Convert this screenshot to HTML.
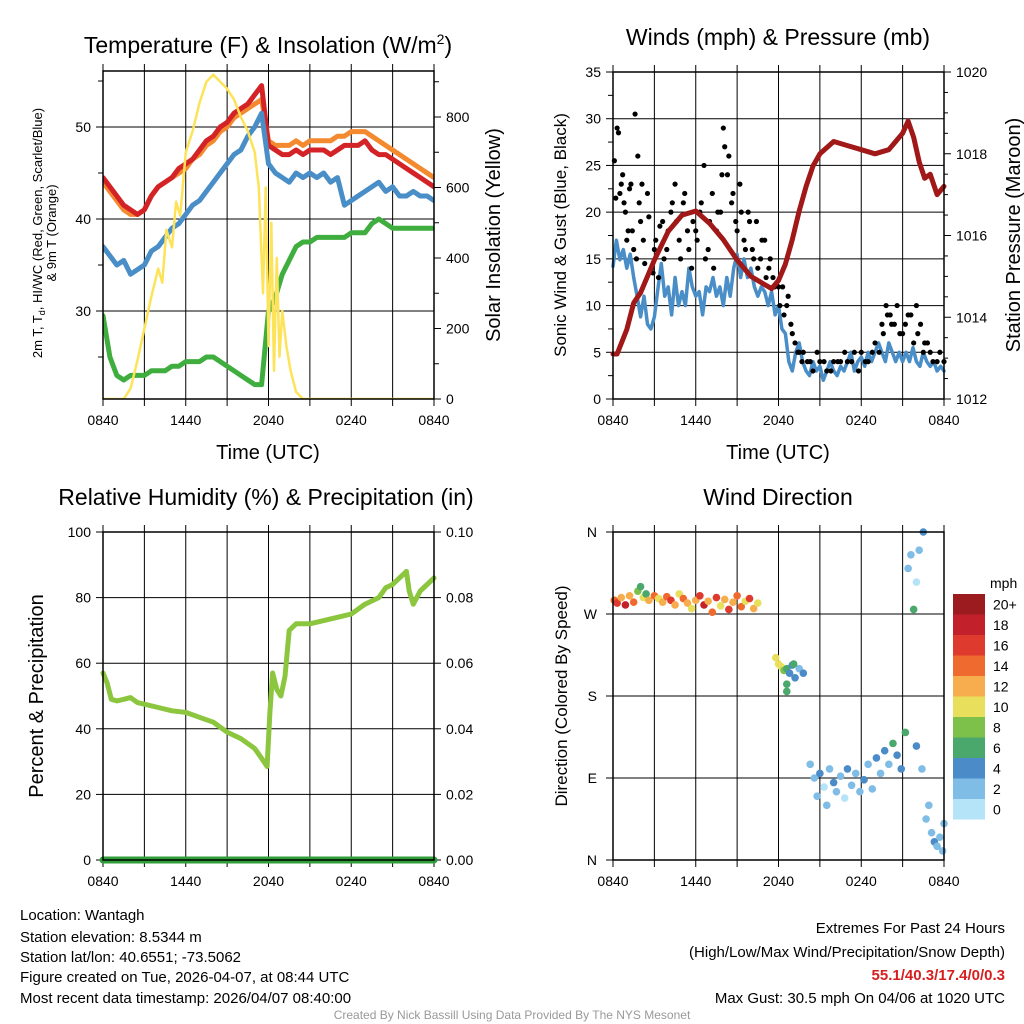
<!DOCTYPE html>
<html><head><meta charset="utf-8"><style>
body{margin:0;background:#fff;}
svg{display:block;font-family:"Liberation Sans",Arial,sans-serif;}
</style></head><body>
<svg id="fig" width="1024" height="1024" viewBox="0 0 1024 1024">
<rect width="1024" height="1024" fill="#fff"/>
<text x="268" y="53" font-size="23" text-anchor="middle">Temperature (F) &amp; Insolation (W/m<tspan font-size="14" dy="-9">2</tspan><tspan dy="9">)</tspan></text>
<text x="778" y="45" font-size="23" text-anchor="middle">Winds (mph) &amp; Pressure (mb)</text>
<text x="266" y="505" font-size="23" text-anchor="middle">Relative Humidity (%) &amp; Precipitation (in)</text>
<text x="778" y="505" font-size="23" text-anchor="middle">Wind Direction</text>

<text transform="translate(42,233) rotate(-90)" font-size="13" text-anchor="middle">2m T, T<tspan font-size="9" dy="3">d</tspan><tspan dy="-3">, HI/WC (Red, Green, Scarlet/Blue)</tspan></text>
<text transform="translate(56,233) rotate(-90)" font-size="13" text-anchor="middle">&amp; 9m T (Orange)</text>
<text transform="translate(500,235) rotate(-90)" font-size="20" text-anchor="middle">Solar Insolation (Yellow)</text>
<text transform="translate(566,235) rotate(-90)" font-size="17" text-anchor="middle">Sonic Wind &amp; Gust (Blue, Black)</text>
<text transform="translate(1020,235) rotate(-90)" font-size="20" text-anchor="middle">Station Pressure (Maroon)</text>
<text transform="translate(43,696) rotate(-90)" font-size="20" text-anchor="middle">Percent &amp; Precipitation</text>
<text transform="translate(567,696) rotate(-90)" font-size="17" text-anchor="middle">Direction (Colored By Speed)</text>
<text x="268" y="459" font-size="20" text-anchor="middle">Time (UTC)</text>
<text x="778" y="459" font-size="20" text-anchor="middle">Time (UTC)</text>

<g font-size="15">
<text x="20" y="920">Location: Wantagh</text>
<text x="20" y="942">Station elevation: 8.5344 m</text>
<text x="20" y="962">Station lat/lon: 40.6551; -73.5062</text>
<text x="20" y="982">Figure created on Tue, 2026-04-07, at 08:44 UTC</text>
<text x="20" y="1003">Most recent data timestamp: 2026/04/07 08:40:00</text>
</g>
<g font-size="15" text-anchor="end">
<text x="1005" y="933">Extremes For Past 24 Hours</text>
<text x="1005" y="957">(High/Low/Max Wind/Precipitation/Snow Depth)</text>
<text x="1005" y="980" fill="#d62020" font-weight="bold">55.1/40.3/17.4/0/0.3</text>
<text x="1005" y="1003">Max Gust: 30.5 mph On 04/06 at 1020 UTC</text>
</g>
<text x="512" y="1019" font-size="12" fill="#999" text-anchor="middle">Created By Nick Bassill Using Data Provided By The NYS Mesonet</text>
</svg>
<script>
// ---- data (hours since 0840 UTC) ----
const timeLabels = ["0840","1440","2040","0240","0840"];
const tHalf = [0,0.5,1,1.5,2,2.5,3,3.5,4,4.5,5,5.5,6,6.5,7,7.5,8,8.5,9,9.5,10,10.5,11,11.5,12,12.5,13,13.5,14,14.5,15,15.5,16,16.5,17,17.5,18,18.5,19,19.5,20,20.5,21,21.5,22,22.5,23,23.5,24];
const tempRed = [44.5,43.5,42.5,41.5,41,40.5,41,42.5,43.5,44,44.5,45.5,46,46.5,47.5,48.5,49,50,50.5,51.5,52,52.5,53.5,54.5,48,47.5,47,47,47.5,47,47.5,47.5,47.5,47,47.5,48,48,48,48.5,47.5,47,47,46.5,46,45.5,45,44.5,44,43.5];
const tempOrange = [44,43,42,41,40.5,40.5,41,42.5,43.5,44,44.5,45,45.5,46.5,47,48,48.5,49.5,50,51,51.5,52,52.5,53,48.5,48,48,48,48.5,48,48.5,48.5,48.5,48.5,49,49,49.5,49.5,49.5,49,48.5,48,47.5,47,46.5,46,45.5,45,44.5];
const tempBlue = [37,36,35,35.5,34,34.5,35,36.5,37,38,39,39.5,40.5,41.5,42,43,44,45,46,47,47.5,49,50,51.5,46,45,44.5,44,45,44.5,45,44.5,45,44,44.5,41.5,42,42.5,43,43.5,44,43,43.5,42.5,42.5,43,42.5,42.5,42];
const tempGreen = [29.5,25,23,22.5,23,23,23,23.5,23.5,23.5,24,24,24.5,24.5,24.5,25,25,24.5,24,23.5,23,22.5,22,22,30,31.5,34,35.5,37,37.5,37.5,38,38,38,38,38,38.5,38.5,38.5,39.5,40,39.5,39,39,39,39,39,39,39];
const solT = [0,1.5,2,2.5,3,3.5,4,4.3,4.6,5,5.3,5.6,6,6.5,7,7.5,8,8.5,9,9.5,10,10.5,11,11.3,11.6,11.8,12,12.2,12.4,12.6,12.8,13,13.3,13.6,14,14.5,24];
const solV = [0,0,30,110,200,290,370,330,480,430,560,520,700,760,840,900,920,900,880,850,800,760,700,600,300,600,150,500,80,400,120,250,150,80,20,0,0];
const windBlue = [14.2,17,14.9,16,14,15.5,13,11,8.8,11,8,7.5,8.8,11.7,14.5,11,12,9,13,10,11.5,10,14,12,11,11.5,9,12,11.5,13,11,12,10,13,11,14,15.5,13,15,13,14,12,11,12,11.5,10,11.5,9,10,7.5,7,4,3,5,6,4,3,2.5,4,3,3.5,2,3,4,3,2.5,3.5,3,4,5,3,4,4.5,3.5,5,4,5,6,5,4,6,5,4,5,4,5,4,5.5,4,3.5,5,4,3.5,4,3,3.5,3];
const gustT = [0.1,0.3,0.5,0.7,0.9,1.1,1.3,1.5,1.6,1.8,2.0,2.2,2.5,2.8,3.0,3.3,3.6,3.9,4.2,4.5,4.8,5.1,5.4,5.7,6.0,6.3,6.6,6.9,7.2,7.5,7.8,8.0,8.3,8.6,8.9,9.2,9.5,9.8,10.1,10.4,10.7,11.0,11.3,11.6,12.0,12.3,12.6,12.9,13.2,13.5,13.8,14.1,14.5,15.0,15.5,16.0,16.5,17.0,17.5,18.0,18.5,19.0,19.5,19.8,20.1,20.4,20.8,21.2,21.6,22.0,22.3,22.6,23.0,23.5,24.0,
 0.2,0.4,0.6,0.8,1.0,1.2,1.4,1.7,1.9,2.1,2.3,2.6,2.9,3.1,3.4,3.7,4.0,4.3,4.6,4.9,5.2,5.5,5.8,6.1,6.4,6.7,7.0,7.3,7.6,7.9,8.1,8.4,8.7,9.0,9.3,9.6,9.9,10.2,10.5,10.8,11.1,11.4,11.7,12.1,12.4,12.7,13.0,13.4,13.7,14.3,14.8,15.3,15.8,16.3,16.8,17.3,17.8,18.3,18.8,19.3,19.6,19.9,20.2,20.6,21.0,21.4,21.8,22.1,22.5,22.8,23.2,23.7];
const gustV = [25.5,29,22,24,20,18,23,16,30.5,26,19,17,22,14,16,13,19,16,20,23,17,21,18,14,18,20,25,16,22,18,20,29,24,21,19,23,17,20,16,19,15,17,14,13,12,12,10,8,6,5,5,4,3,4,3,4,4,4,5,5,4,6,8,10,9,8,7,8,9,10,8,6,5,4,4,
 21.5,28.5,23,21,17,22.5,18,15,21,23,14.5,19.5,13.5,17,18.5,15,18,21,19,15,22,16,19,17,21,15,19,14,20,24,27,26,22,18,20,16,19,15,14,17,13,15,12,10,9,11,7,5,4,4,5,4,3,4,5,4,3,4,5,5,7,9,8,10,7,9,6,7,5,6,4,5];
const presT = [0,0.3,1,1.5,2,3,4,5,6,7,8,9,10,11,11.5,12,12.5,13,13.5,14,14.5,15,16,17,18,19,20,20.5,21,21.4,21.8,22.2,22.6,23,23.5,24];
const presV = [1013.1,1013.1,1013.7,1014.35,1014.6,1015.4,1016.1,1016.5,1016.6,1016.3,1015.9,1015.4,1015.0,1014.8,1014.7,1014.9,1015.3,1015.9,1016.6,1017.2,1017.7,1018.0,1018.3,1018.2,1018.1,1018.0,1018.1,1018.3,1018.5,1018.8,1018.4,1017.8,1017.4,1017.5,1017.0,1017.2];
const rhT = [0,0.3,0.6,1,1.5,2,2.5,3,4,5,6,7,8,9,10,11,11.5,11.9,12.1,12.3,12.6,12.9,13.2,13.5,14,15,16,17,18,19,20,20.5,21,21.5,22,22.2,22.5,23,23.5,24];
const rhV = [57,54,49,48.5,49,49.5,48,47.5,46.5,45.5,45,43.5,42,39,37,34,31,28.5,45,57,52,50,56,70,72,72,73,74,75,78,80,83,84,86,88,82,78,82,84,86];
const precipT = [0,24];
const precipV = [0,0];
const dirT = [0.1,0.3,0.6,0.9,1.2,1.5,1.8,2.0,2.2,2.4,2.6,3.0,3.3,3.6,3.9,4.2,4.5,4.8,5.1,5.4,5.7,6.0,6.3,6.6,6.9,7.2,7.5,7.8,8.1,8.4,8.7,9.0,9.3,9.6,9.9,10.2,10.5,11.8,12.0,12.2,12.4,12.6,12.8,13.0,13.2,13.5,13.8,12.6,12.6,13.1,14.3,14.6,14.8,15.0,15.3,15.5,15.7,16.0,16.2,16.5,16.8,17.0,17.3,17.6,17.9,18.2,18.5,18.8,19.1,19.4,19.7,20.0,20.3,20.6,20.9,21.2,21.4,21.6,21.8,22.0,22.2,22.5,22.7,22.9,23.1,23.3,23.5,23.7,23.9,24.0,22.4,22.0];
const dirD = [285,282,288,280,290,283,295,300,288,292,285,290,287,283,289,285,280,292,287,282,276,285,290,280,284,272,288,279,286,275,283,290,278,284,287,276,282,222,215,212,208,210,205,214,200,210,205,185,193,215,105,90,70,95,80,60,100,85,75,92,68,100,82,95,75,88,105,78,112,95,120,105,128,115,100,140,320,335,275,305,340,360,45,60,30,20,15,25,10,40,100,125];
const dirS = [14,16,12,18,13,15,8,7,10,6,12,14,11,12,15,16,13,11,14,12,10,13,16,18,12,15,17,11,13,16,12,15,14,10,16,12,11,10,11,10,8,6,5,4,4,3,4,6,6,6,2,3,2,4,1,2,3,4,2,3,1,4,3,2,3,4,2,3,4,2,5,3,6,4,5,6,3,2,6,1,3,4,2,3,2,4,3,2,3,2,2,4];
const speedLabels = ["0","2","4","6","8","10","12","14","16","18","20+"];
const speedColors = ["#b5e3f7","#80bde6","#4a8bc8","#4aa86c","#7dc14a","#e8df5c","#f7ad4d","#ef6a2e","#df3a2e","#c2202a","#9b1b1e"];
const tempTicks = [30,40,50];
const solTicks = [0,200,400,600,800];
const windTicks = [0,5,10,15,20,25,30,35];
const presTicks = [1012,1014,1016,1018,1020];
const rhTicks = [0,20,40,60,80,100];
const precTicks = ["0.00","0.02","0.04","0.06","0.08","0.10"];
const dirTicks = [0,90,180,270,360];
const dirLabels = ["N","E","S","W","N"];
const windT = windBlue.map((_, i) => i * 0.25);

const svg = document.getElementById('fig');
const NS = 'http://www.w3.org/2000/svg';
function mk(tag, attrs, parent){
  const e = document.createElementNS(NS, tag);
  for (const k in attrs) e.setAttribute(k, attrs[k]);
  (parent||svg).appendChild(e);
  return e;
}
function lin(d0,d1,r0,r1){ return v => r0 + (v-d0)/(d1-d0)*(r1-r0); }

function frame(name){
  const g = mk('g',{});
  
  
  return g;
}
function xAxis(g,x,y0,y1){
  for (let h=0; h<=24; h+=3){
    const gl = mk('line',{x1:x(h),x2:x(h),y1:y0-7,y2:y1,stroke:'#000','stroke-width':1},g);
    
    
    const bt = mk('line',{x1:x(h),x2:x(h),y1:y1,y2:y1+7,stroke:'#000','stroke-width':1},g);
    
    
  }
  for (let i=0;i<timeLabels.length;i++){
    const t = mk('text',{x:x(i*6),y:y1+26,'font-size':14,'text-anchor':'middle'},g);
    t.textContent = timeLabels[i];
    
    
  }
}
function box(g,x0,y0,x1,y1){
  const r = mk('rect',{x:x0,y:y0,width:x1-x0,height:y1-y0,fill:'none',stroke:'#000','stroke-width':1.5},g);
  
  
}
function hgrid(g,x0,x1,y){
  const l = mk('line',{x1:x0,x2:x1,y1:y,y2:y,stroke:'#000','stroke-width':1},g);
  
  
}
function ylabel(g,x,y,txt,anchor){
  const t = mk('text',{x:x,y:y+5,'font-size':14,'text-anchor':anchor},g);
  t.textContent = txt;
  
  
}
function tick(g,xa,xb,y){
  const l = mk('line',{x1:xa,x2:xb,y1:y,y2:y,stroke:'#000','stroke-width':1},g);
  
  
}
function path(g,xs,ys,x,y,color,w,name){
  let d='';
  for (let i=0;i<xs.length;i++) d += (i?'L':'M') + x(xs[i]).toFixed(1)+','+y(ys[i]).toFixed(1);
  const p = mk('path',{d:d,fill:'none',stroke:color,'stroke-width':w,'stroke-linejoin':'round','stroke-linecap':'round'},g);
  
  
}

// ---- Panel 1: Temperature ----
(function(){
  const X0=103,X1=434,Y0=71,Y1=399;
  const x = lin(0,24,X0,X1), y = lin(30,40,311,219), ys = lin(0,800,399,117);
  const g = frame('temperature-panel');
  xAxis(g,x,Y0,Y1);
  for (const v of tempTicks){ hgrid(g,X0,X1,y(v)); tick(g,X0-7,X0,y(v)); ylabel(g,X0-12,y(v),String(v),'end'); }
  for (const v of [25,35,45,55]) tick(g,X0-5,X0,y(v));
  for (const v of solTicks){ tick(g,X1,X1+7,ys(v)); ylabel(g,X1+12,ys(v),String(v),'start'); }
  for (const v of [100,300,500,700,900]) tick(g,X1,X1+5,ys(v));
  const cp = mk('clipPath',{id:'c1'},svg);
  mk('rect',{x:X0,y:Y0,width:X1-X0,height:Y1-Y0},cp);
  const cg = mk('g',{'clip-path':'url(#c1)'},g);
  path(cg,tHalf,tempOrange,x,y,'#f48a30',5,'orange-9m-temp-line');
  path(cg,tHalf,tempRed,x,y,'#d42326',5,'red-2m-temp-line');
  path(cg,tHalf,tempBlue,x,y,'#4a8ec8',5,'blue-windchill-line');
  path(cg,tHalf,tempGreen,x,y,'#3fae3f',5,'green-dewpoint-line');
  path(cg,solT,solV,x,ys,'#fde35a',2.5,'yellow-insolation-line');
  box(g,X0,Y0,X1,Y1);
})();

// ---- Panel 2: Winds ----
(function(){
  const X0=613,X1=944,Y0=72,Y1=399;
  const x = lin(0,24,X0,X1), y = lin(0,35,Y1,Y0), yp = lin(1012,1020,Y1,Y0);
  const g = frame('winds-panel');
  xAxis(g,x,Y0,Y1);
  for (const v of windTicks){ if(v>0&&v<35) hgrid(g,X0,X1,y(v)); tick(g,X0-7,X0,y(v)); ylabel(g,X0-12,y(v),String(v),'end'); }
  for (let v=2.5; v<35; v+=5) tick(g,X0-5,X0,y(v));
  for (const v of presTicks){ tick(g,X1,X1+7,yp(v)); ylabel(g,X1+12,yp(v),String(v),'start'); }
  for (let v=1012.5; v<1020; v+=0.5) if (v%2) tick(g,X1,X1+4,yp(v));
  path(g,windT,windBlue,x,y,'#4a8ec8',3.5,'blue-sonic-wind-line');
  for (let i=0;i<gustT.length;i++){
    const c = mk('circle',{cx:x(gustT[i]),cy:y(gustV[i]),r:2.6,fill:'#000'},g);
    
    
  }
  path(g,presT,presV,x,yp,'#a01818',5,'maroon-pressure-line');
  box(g,X0,Y0,X1,Y1);
})();

// ---- Panel 3: Humidity ----
(function(){
  const X0=103,X1=434,Y0=532,Y1=860;
  const x = lin(0,24,X0,X1), y = lin(0,100,Y1,Y0), yp = lin(0,0.1,Y1,Y0);
  const g = frame('humidity-panel');
  xAxis(g,x,Y0,Y1);
  for (const v of rhTicks){ if(v>0&&v<100) hgrid(g,X0,X1,y(v)); tick(g,X0-7,X0,y(v)); ylabel(g,X0-12,y(v),String(v),'end'); }
  for (let i=0;i<precTicks.length;i++){ const yy=yp(parseFloat(precTicks[i])); tick(g,X1,X1+7,yy); ylabel(g,X1+12,yy,precTicks[i],'start'); }
  path(g,rhT,rhV,x,y,'#8cc63f',5,'humidity-line');
  path(g,precipT,precipV,x,yp,'#2f9e3a',7,'precipitation-line');
  box(g,X0,Y0,X1,Y1);
})();

// ---- Panel 4: Wind direction ----
(function(){
  const X0=613,X1=944,Y0=532,Y1=860;
  const x = lin(0,24,X0,X1), y = lin(0,360,Y1,Y0);
  const g = frame('wind-direction-panel');
  xAxis(g,x,Y0,Y1);
  for (let i=0;i<dirTicks.length;i++){ const v=dirTicks[i]; if(v>0&&v<360) hgrid(g,X0,X1,y(v)); tick(g,X0-7,X0,y(v)); ylabel(g,X0-16,y(v),dirLabels[i],'end'); }
  for (let i=0;i<dirT.length;i++){
    const b = Math.min(10, Math.floor(dirS[i]/2));
    const c = mk('circle',{cx:x(dirT[i]),cy:y(dirD[i]),r:3.8,fill:speedColors[b]},g);
    
    
  }
  box(g,X0,Y0,X1,Y1);
  const cb = mk('g',{});
  
  
  const t = mk('text',{x:990,y:588,'font-size':14},cb);
  t.textContent = 'mph';
  
  
  const bh = 20.5;
  for (let i=0;i<speedLabels.length;i++){
    const top = 594 + (10-i)*bh;
    const r = mk('rect',{x:953,y:top,width:32,height:bh,fill:speedColors[i]},cb);
    
    
    const l = mk('text',{x:993,y:top+bh/2+5,'font-size':14},cb);
    l.textContent = speedLabels[i];
    
    
  }
})();
</script>
</body></html>
